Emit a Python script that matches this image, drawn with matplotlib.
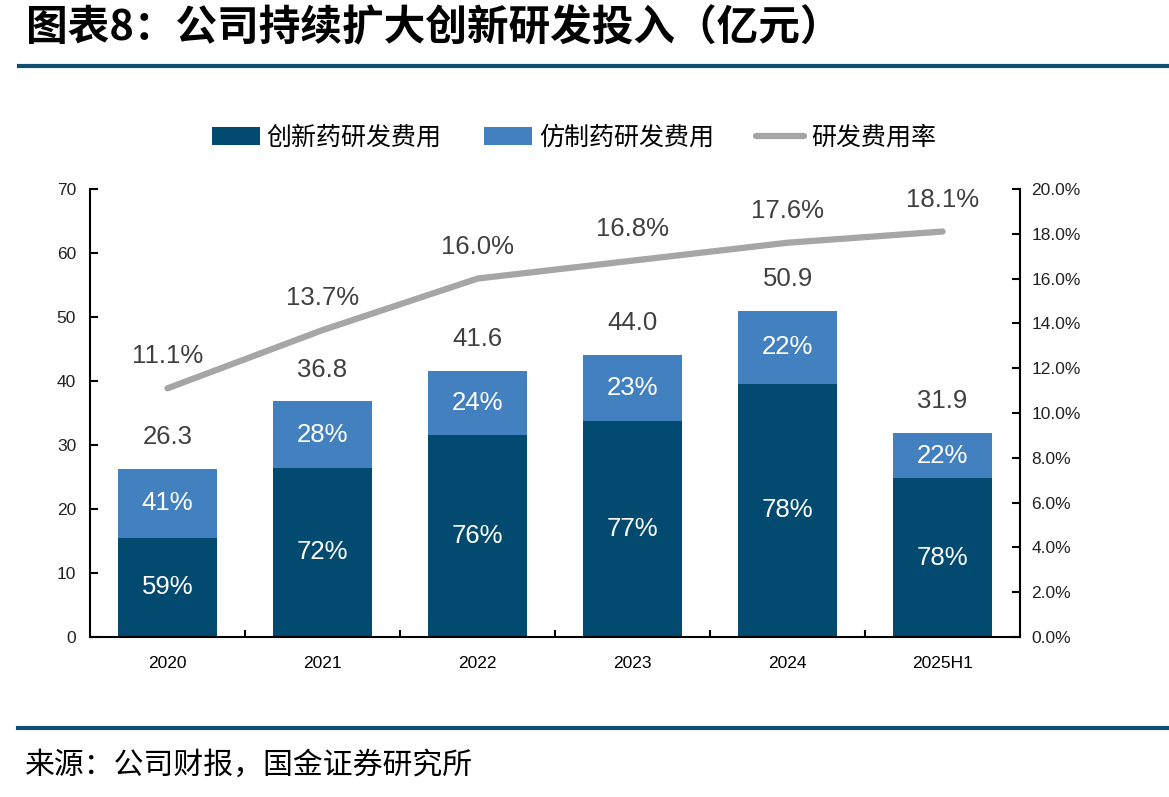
import matplotlib
matplotlib.use('Agg')
import matplotlib.pyplot as plt
import numpy as np

plt.rcParams['font.family'] = ['Liberation Sans', 'Noto Sans CJK SC', 'DejaVu Sans']

years = ['2020', '2021', '2022', '2023', '2024', '2025H1']
innov = [15.5, 26.4, 31.5, 33.8, 39.6, 24.8]
generic = [10.8, 10.4, 10.1, 10.2, 11.3, 7.1]
totals = ['26.3', '36.8', '41.6', '44.0', '50.9', '31.9']
innov_pct = ['59%', '72%', '76%', '77%', '78%', '78%']
generic_pct = ['41%', '28%', '24%', '23%', '22%', '22%']
rate = [11.1, 13.7, 16.0, 16.8, 17.6, 18.1]

dark = '#024A6F'
light = '#4380BF'
grey = '#A6A6A6'
line_c = '#0E4F72'
cjk = ['Noto Sans CJK SC', 'DejaVu Sans']

fig = plt.figure(figsize=(11.69, 7.97), dpi=100)
ax = fig.add_axes([0.077, 0.2008, 0.7956, 0.5621])
ax2 = ax.twinx()

x = np.arange(len(years))
w = 0.64
b1 = ax.bar(x, innov, w, color=dark, label='创新药研发费用')
b2 = ax.bar(x, generic, w, bottom=innov, color=light, label='仿制药研发费用')
ln, = ax2.plot(x, rate, color=grey, lw=4.5, solid_capstyle='round', label='研发费用率')

ax.set_xlim(-0.5, 5.5)
ax.set_ylim(0, 70)
ax.set_yticks(range(0, 71, 10))
ax2.set_ylim(0, 20)
ax2.set_yticks(np.arange(0, 20.1, 2))
ax2.set_yticklabels(['%.1f%%' % v for v in np.arange(0, 20.1, 2)])
ax.set_xticks(x)
ax.set_xticklabels(years)
ax.set_xticks(np.arange(0.5, 5, 1), minor=True)

for a in (ax, ax2):
    a.spines['top'].set_visible(False)
    for s in a.spines.values():
        s.set_linewidth(1.5)
ax2.spines['left'].set_visible(False)
ax2.spines['bottom'].set_visible(False)
ax.spines['right'].set_visible(False)
ax.tick_params(axis='y', direction='in', length=6, width=1.5, labelsize=12.5,
               colors='black', labelcolor='#222222', pad=10)
ax.tick_params(axis='x', which='major', length=0, labelsize=12.5, pad=14)
ax.tick_params(axis='x', which='minor', direction='in', length=5, width=1.5)
ax2.tick_params(axis='y', direction='in', length=6, width=1.5, labelsize=12.5,
                colors='black', labelcolor='#222222', pad=8)

for i in range(len(years)):
    ax.text(x[i], innov[i] / 2, innov_pct[i], color='white', ha='center', va='center', fontsize=18.5)
    ax.text(x[i], innov[i] + generic[i] / 2, generic_pct[i], color='white', ha='center', va='center', fontsize=18.5)
    ax.annotate(totals[i], (x[i], innov[i] + generic[i]), xytext=(0, 23), textcoords='offset points',
                ha='center', va='center', fontsize=18.5, color='#404040')
    ax2.annotate('%.1f%%' % rate[i], (x[i], rate[i]), xytext=(0, 23), textcoords='offset points',
                 ha='center', va='center', fontsize=18.5, color='#404040')

fig.legend([b1, b2, ln], ['创新药研发费用', '仿制药研发费用', '研发费用率'],
           loc='center', bbox_to_anchor=(0.491, 0.827), ncol=3, frameon=False,
           prop={'family': cjk, 'size': 18}, handlelength=1.9, handleheight=0.76,
           columnspacing=1.7, handletextpad=0.28)

fig.text(0.022, 0.965, '图表8：公司持续扩大创新研发投入（亿元）', fontsize=30, fontweight='bold',
         family=cjk, va='center', ha='left', style='italic')
fig.add_artist(plt.Line2D([0.016, 1.0], [0.9166, 0.9166], color=line_c, lw=3))
fig.add_artist(plt.Line2D([0.015, 1.0], [0.087, 0.087], color=line_c, lw=3))
fig.text(0.021, 0.040, '来源：公司财报，国金证券研究所', fontsize=21.5, family=cjk, va='center', ha='left')

fig.savefig('out.png', dpi=100)
